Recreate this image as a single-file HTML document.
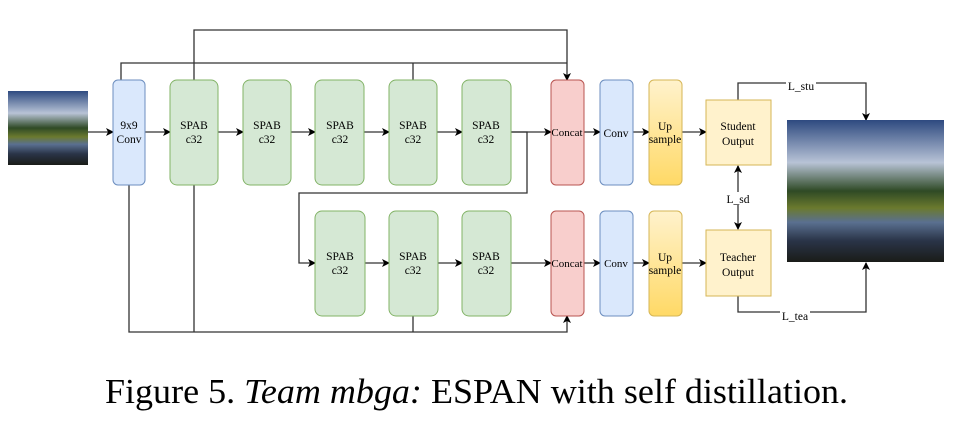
<!DOCTYPE html>
<html><head><meta charset="utf-8"><style>
body{margin:0;background:#fff;width:960px;height:438px;overflow:hidden}
</style></head><body>
<svg width="960" height="438" viewBox="0 0 960 438" xmlns="http://www.w3.org/2000/svg" font-family="Liberation Serif, serif">
<defs>
<marker id="a" markerWidth="8" markerHeight="8" refX="7" refY="4" orient="auto" markerUnits="userSpaceOnUse"><path d="M0,0 L8,4 L0,8 L2,4 Z" fill="#000"/></marker>
<marker id="as" markerWidth="8" markerHeight="8" refX="1" refY="4" orient="auto" markerUnits="userSpaceOnUse"><path d="M8,0 L0,4 L8,8 L6,4 Z" fill="#000"/></marker>
<linearGradient id="up" x1="0" y1="0" x2="0" y2="1"><stop offset="0" stop-color="#fff2cc"/><stop offset="1" stop-color="#ffd966"/></linearGradient>
<linearGradient id="img" x1="0" y1="0" x2="0" y2="1"><stop offset="0" stop-color="#2e4a80"/><stop offset="0.3" stop-color="#b8c3d6"/><stop offset="0.5" stop-color="#2f4a25"/><stop offset="0.62" stop-color="#6b7a2e"/><stop offset="0.72" stop-color="#5a7090"/><stop offset="0.85" stop-color="#2a3448"/><stop offset="1" stop-color="#1a1c18"/></linearGradient>
</defs>
<g stroke="#333" stroke-width="1.3" fill="none">
<polyline points="194,80 194,30 567,30 567,80" marker-end="url(#a)"/>
<polyline points="121,80 121,63 567,63"/>
<line x1="413" y1="80" x2="413" y2="63"/>
<polyline points="129,185 129,332 567,332 567,316" marker-end="url(#a)"/>
<line x1="194" y1="185" x2="194" y2="332"/>
<line x1="413" y1="316" x2="413" y2="332"/>
<polyline points="511,132 527,132 527,193 299,193 299,263 315,263" marker-end="url(#a)"/>
<line x1="88" y1="132" x2="113" y2="132" marker-end="url(#a)"/>
<line x1="145" y1="132" x2="170" y2="132" marker-end="url(#a)"/>
<line x1="218" y1="132" x2="243" y2="132" marker-end="url(#a)"/>
<line x1="291" y1="132" x2="315" y2="132" marker-end="url(#a)"/>
<line x1="364" y1="132" x2="389" y2="132" marker-end="url(#a)"/>
<line x1="437" y1="132" x2="462" y2="132" marker-end="url(#a)"/>
<line x1="511" y1="132" x2="551" y2="132" marker-end="url(#a)"/>
<line x1="584" y1="132" x2="600" y2="132" marker-end="url(#a)"/>
<line x1="633" y1="132" x2="649" y2="132" marker-end="url(#a)"/>
<line x1="682" y1="132" x2="706" y2="132" marker-end="url(#a)"/>
<line x1="365" y1="263" x2="389" y2="263" marker-end="url(#a)"/>
<line x1="438" y1="263" x2="462" y2="263" marker-end="url(#a)"/>
<line x1="511" y1="263" x2="551" y2="263" marker-end="url(#a)"/>
<line x1="584" y1="263" x2="600" y2="263" marker-end="url(#a)"/>
<line x1="633" y1="263" x2="649" y2="263" marker-end="url(#a)"/>
<line x1="682" y1="263" x2="706" y2="263" marker-end="url(#a)"/>
<polyline points="738,100 738,83 866,83 866,120" marker-end="url(#a)"/>
<line x1="738" y1="166" x2="738" y2="229" marker-start="url(#as)" marker-end="url(#a)"/>
<polyline points="738,296 738,312 866,312 866,263" marker-end="url(#a)"/>
</g>
<rect x="8" y="91" width="80" height="74" fill="url(#img)"/>
<rect x="787" y="120" width="157" height="142" fill="url(#img)"/>
<g stroke-width="1">
<rect x="113" y="80" width="32" height="105" rx="5" fill="#dae8fc" stroke="#6c8ebf"/>
<g fill="#d5e8d4" stroke="#82b366">
<rect x="170" y="80" width="48" height="105" rx="7"/>
<rect x="243" y="80" width="48" height="105" rx="7"/>
<rect x="315" y="80" width="49" height="105" rx="7"/>
<rect x="389" y="80" width="48" height="105" rx="7"/>
<rect x="462" y="80" width="49" height="105" rx="7"/>
<rect x="315" y="211" width="50" height="105" rx="7"/>
<rect x="389" y="211" width="49" height="105" rx="7"/>
<rect x="462" y="211" width="49" height="105" rx="7"/>
</g>
<rect x="551" y="80" width="33" height="105" rx="5" fill="#f8cecc" stroke="#b85450"/>
<rect x="551" y="211" width="33" height="105" rx="5" fill="#f8cecc" stroke="#b85450"/>
<rect x="600" y="80" width="33" height="105" rx="5" fill="#dae8fc" stroke="#6c8ebf"/>
<rect x="600" y="211" width="33" height="105" rx="5" fill="#dae8fc" stroke="#6c8ebf"/>
<rect x="649" y="80" width="33" height="105" rx="5" fill="url(#up)" stroke="#d6b656"/>
<rect x="649" y="211" width="33" height="105" rx="5" fill="url(#up)" stroke="#d6b656"/>
<rect x="706" y="100" width="65" height="65" fill="#fff2cc" stroke="#d6b656"/>
<rect x="706" y="230" width="65" height="66" fill="#fff2cc" stroke="#d6b656"/>
</g>
<g font-size="11.5" text-anchor="middle" fill="#000">
<text x="129" y="129">9x9</text><text x="129" y="143">Conv</text>
<text x="194" y="129">SPAB</text><text x="194" y="143">c32</text>
<text x="267" y="129">SPAB</text><text x="267" y="143">c32</text>
<text x="340" y="129">SPAB</text><text x="340" y="143">c32</text>
<text x="413" y="129">SPAB</text><text x="413" y="143">c32</text>
<text x="486" y="129">SPAB</text><text x="486" y="143">c32</text>
<text x="340" y="260">SPAB</text><text x="340" y="274">c32</text>
<text x="413" y="260">SPAB</text><text x="413" y="274">c32</text>
<text x="486" y="260">SPAB</text><text x="486" y="274">c32</text>
<text x="567" y="136" font-size="11">Concat</text>
<text x="567" y="267" font-size="11">Concat</text>
<text x="616" y="137">Conv</text><text x="616" y="267" font-size="11">Conv</text>
<text x="665" y="130">Up</text><text x="665" y="143">sample</text>
<text x="665" y="261">Up</text><text x="665" y="274">sample</text>
<text x="738" y="130">Student</text><text x="738" y="145">Output</text>
<text x="738" y="261">Teacher</text><text x="738" y="276">Output</text>
</g>
<g font-size="11.5" text-anchor="middle">
<rect x="786" y="79" width="30" height="11" fill="#fff"/><text x="801" y="90">L_stu</text>
<rect x="722" y="192" width="32" height="13" fill="#fff"/><text x="738" y="203">L_sd</text>
<rect x="780" y="309" width="30" height="11" fill="#fff"/><text x="795" y="320">L_tea</text>
</g>
<text x="105" y="403" font-size="35" textLength="743" lengthAdjust="spacingAndGlyphs">Figure 5. <tspan font-style="italic">Team mbga:</tspan> ESPAN with self distillation.</text>
</svg>
</body></html>
